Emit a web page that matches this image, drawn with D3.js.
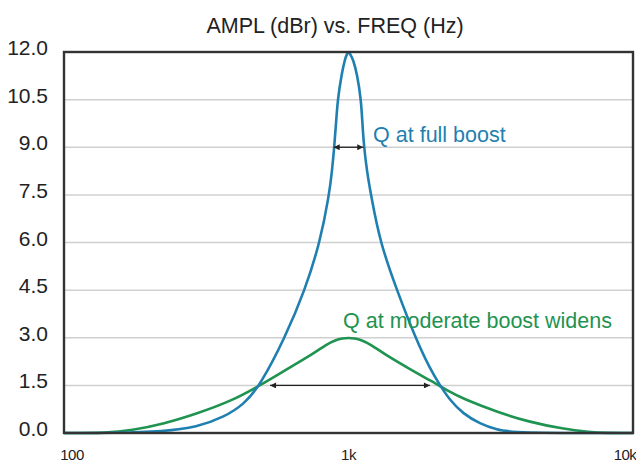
<!DOCTYPE html>
<html>
<head>
<meta charset="utf-8">
<script src="https://cdn.jsdelivr.net/npm/d3@7"></script>
<style>
  body { margin: 0; background: #fff; }
  svg { display: block; font-family: "Liberation Sans", Arial, sans-serif; }
  .grid line { stroke: #d0d0d0; stroke-width: 1.5; }
  .frame { fill: none; stroke: #333; stroke-width: 2.4; }
  .tick-label { fill: #222; }
  .curve { fill: none; stroke-width: 2.6; }
</style>
</head>
<body>
<script>
// Tick values and labels
var yTicks = [0, 1.5, 3.0, 4.5, 6.0, 7.5, 9.0, 10.5, 12.0];
var xTicks = [100, 1000, 10000];
var xTickLabels = ["100", "1k", "10k"];

// Full boost curve (frequency Hz, level dBr)
var fullFreq = [100, 150, 225, 293, 365, 429, 489, 598, 703, 794, 855, 875, 891, 904, 916, 946, 970, 988, 1000,
  1012, 1040, 1072, 1107, 1119, 1134, 1161, 1199, 1291, 1479, 1718, 1934, 2097, 2274, 2525, 2898, 3327, 3787, 10000];
var fullAmpl = [0, 0, 0.05, 0.18, 0.5, 0.9, 1.5, 3.0, 4.5, 6.0, 7.5, 8.25, 9.0, 9.75, 10.5, 11.3, 11.75, 11.95, 12.0,
  11.95, 11.75, 11.3, 10.5, 9.75, 9.0, 8.25, 7.5, 6.0, 4.5, 3.0, 2.02, 1.5, 1.03, 0.61, 0.29, 0.1, 0, 0];

// Moderate boost curve
var modFreq = [100, 142, 172, 225, 293, 386, 489, 605, 759, 832, 902, 951, 1000,
  1052, 1109, 1202, 1318, 1652, 1934, 2274, 2525, 3327, 4344, 5675, 7063, 8000, 10000];
var modAmpl = [0, 0, 0.08, 0.29, 0.61, 1.0, 1.5, 2.0, 2.52, 2.78, 2.93, 2.98, 3.0,
  2.98, 2.93, 2.78, 2.52, 2.0, 1.66, 1.29, 1.08, 0.66, 0.34, 0.13, 0.03, 0, 0];

// Q arrows: [startFreq, endFreq, level]
var fullArrow = [887, 1127, 9.0];
var modArrow = [530, 1933, 1.5];

var svgWidth = 636;
var svgHeight = 462;
var margin = { top: 52, right: 3, bottom: 29, left: 64 };
var chartWidth = svgWidth - margin.left - margin.right;
var chartHeight = svgHeight - margin.top - margin.bottom;

var blue = "#1f7fb1";
var green = "#1f9350";

var svg = d3.select("body").append("svg")
  .attr("width", svgWidth)
  .attr("height", svgHeight);

svg.append("defs").append("marker")
  .attr("id", "head")
  .attr("viewBox", "0 0 10 10")
  .attr("refX", 10).attr("refY", 5)
  .attr("markerWidth", 8).attr("markerHeight", 6)
  .attr("markerUnits", "userSpaceOnUse")
  .attr("orient", "auto-start-reverse")
  .append("path")
  .attr("d", "M0,0L10,5L0,10Z")
  .attr("fill", "#222");

// Title
svg.append("text")
  .attr("x", 335).attr("y", 33)
  .attr("text-anchor", "middle")
  .attr("font-size", 21.5)
  .attr("fill", "#222")
  .text("AMPL (dBr) vs. FREQ (Hz)");

var chartGroup = svg.append("g")
  .attr("transform", "translate(" + margin.left + "," + margin.top + ")");

var xScale = d3.scaleLog().domain([100, 10000]).range([0, chartWidth]);
var yScale = d3.scaleLinear().domain([0, 12]).range([chartHeight, 0]);

// Horizontal gridlines
chartGroup.append("g").attr("class", "grid")
  .selectAll("line")
  .data(yTicks.slice(1, -1))
  .enter().append("line")
  .attr("x1", 0).attr("x2", chartWidth)
  .attr("y1", function (d) { return yScale(d); })
  .attr("y2", function (d) { return yScale(d); });

// Y tick labels
chartGroup.append("g")
  .selectAll("text")
  .data(yTicks)
  .enter().append("text")
  .attr("class", "tick-label")
  .attr("x", -16)
  .attr("y", function (d) { return yScale(d) + 3; })
  .attr("text-anchor", "end")
  .attr("font-size", 21)
  .text(function (d) { return d.toFixed(1); });

// X tick labels
chartGroup.append("g")
  .selectAll("text")
  .data(xTicks)
  .enter().append("text")
  .attr("class", "tick-label")
  .attr("x", function (d, i) { return xScale(d) + [8, 0, -8][i]; })
  .attr("y", chartHeight + 27)
  .attr("text-anchor", "middle")
  .attr("font-size", 15)
  .attr("letter-spacing", -0.5)
  .text(function (d, i) { return xTickLabels[i]; });

// B-spline smooths the hand-read points
var drawLine = d3.line()
  .x(function (d) { return xScale(d[0]); })
  .y(function (d) { return yScale(d[1]); })
  .curve(d3.curveBasis);

chartGroup.append("path")
  .attr("class", "curve")
  .attr("stroke", green)
  .attr("d", drawLine(d3.zip(modFreq, modAmpl)));

chartGroup.append("path")
  .attr("class", "curve")
  .attr("stroke", blue)
  .attr("d", drawLine(d3.zip(fullFreq, fullAmpl)));

// Q arrows
[fullArrow, modArrow].forEach(function (a) {
  chartGroup.append("line")
    .attr("x1", xScale(a[0])).attr("x2", xScale(a[1]))
    .attr("y1", yScale(a[2])).attr("y2", yScale(a[2]))
    .attr("stroke", "#222").attr("stroke-width", 1.3)
    .attr("marker-start", "url(#head)")
    .attr("marker-end", "url(#head)");
});

// Frame
chartGroup.append("rect")
  .attr("class", "frame")
  .attr("x", 0).attr("y", 0)
  .attr("width", chartWidth).attr("height", chartHeight);

// Annotations
chartGroup.append("text")
  .attr("x", xScale(1220)).attr("y", yScale(9.17))
  .attr("font-size", 21.5)
  .attr("fill", blue)
  .text("Q at full boost");

chartGroup.append("text")
  .attr("x", xScale(957)).attr("y", yScale(3.31))
  .attr("font-size", 21.5)
  .attr("fill", green)
  .text("Q at moderate boost widens");
</script>
</body>
</html>
